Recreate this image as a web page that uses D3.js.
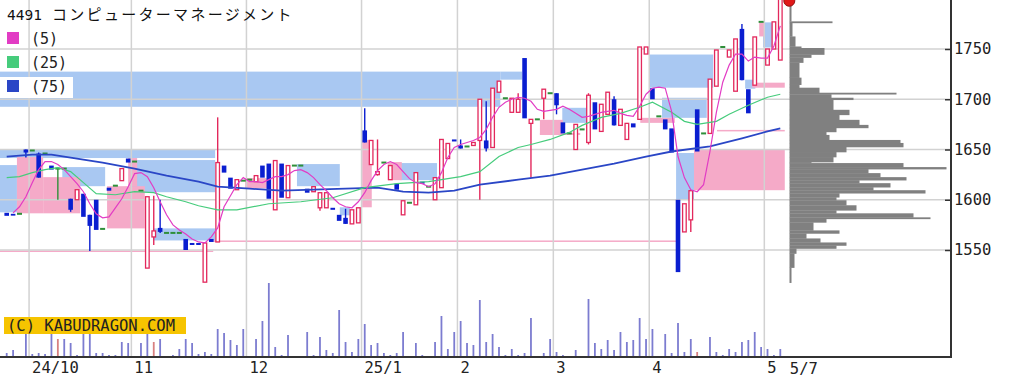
<!DOCTYPE html>
<html>
<head>
<meta charset="utf-8">
<script src="https://cdn.jsdelivr.net/npm/d3@7"></script>
<style>
body{margin:0;background:#fff}
svg{display:block}
</style>
</head>
<body>
<svg id="chart" width="1018" height="390"></svg>
<script>
// ---- data ----
const code = "4491";
const name = "コンピューターマネージメント";

const opens = [1587,1586,1586,1650,1649,1646,1646,1634,1631,1631,
 1601,1600,1606,1585,1600,1571,1612,1614,1619,1641,
 1638,1609,1532,1563,1572,1567,1567,1567,1561,1557,
 1557,1518,1561,1558,1634,1622,1610,1619,1620,1618,
 1634,1636,1590,1636,1602,1634,1634,1611,1608,1592,
 1592,1592,1585,1582,1576,1577,1669,1635,1625,1637,
 1620,1616,1585,1597,1595,1618,1613,1600,1612,1641,
 1660,1654,1653,1654,1659,1659,1652,1707,1701,1687,
 1687,1741,1676,1680,1701,1706,1706,1677,1666,1650,
 1670,1657,1697,1668,1685,1700,1674,1660,1676,1680,
 1745,1711,1683,1680,1671,1600,1568,1580,1690,1666,
 1666,1713,1752,1742,1708,1770,1710,1714,1777,1734,
 1750,1739];
const highs = [1587,1586,1586,1650,1649,1647,1646,1634,1632,1631,
 1601,1610,1606,1585,1600,1571,1612,1614,1631,1641,
 1638,1609,1603,1604,1600,1567,1567,1567,1561,1557,
 1557,1557,1561,1682,1634,1622,1620,1619,1620,1624,
 1634,1636,1639,1636,1634,1634,1634,1611,1613,1607,
 1607,1592,1585,1591,1590,1592,1691,1659,1660,1637,
 1634,1616,1599,1597,1627,1618,1613,1622,1660,1656,
 1660,1660,1653,1657,1700,1698,1711,1718,1701,1701,
 1706,1741,1680,1680,1710,1706,1706,1677,1666,1675,
 1670,1706,1697,1695,1707,1703,1690,1676,1676,1752,
 1752,1711,1683,1680,1671,1600,1596,1609,1690,1666,
 1720,1749,1752,1749,1760,1775,1710,1762,1777,1750,
 1777,1800];
const lows = [1584,1585,1586,1642,1649,1622,1646,1630,1600,1631,
 1588,1600,1583,1549,1570,1571,1609,1614,1619,1637,
 1638,1609,1532,1555,1567,1567,1567,1567,1550,1555,
 1555,1518,1558,1558,1627,1611,1610,1619,1620,1618,
 1622,1601,1590,1602,1602,1634,1634,1607,1608,1589,
 1592,1590,1579,1576,1576,1577,1657,1635,1624,1637,
 1620,1610,1585,1597,1595,1616,1613,1600,1612,1641,
 1658,1651,1653,1654,1600,1648,1652,1707,1701,1687,
 1687,1681,1622,1680,1680,1706,1685,1666,1666,1650,
 1670,1655,1670,1668,1685,1674,1674,1660,1672,1680,
 1745,1700,1683,1670,1647,1528,1568,1568,1648,1666,
 1666,1713,1752,1742,1708,1719,1686,1714,1777,1734,
 1750,1739];
const closes = [1584,1585,1586,1647,1649,1622,1646,1630,1631,1631,
 1590,1610,1583,1574,1570,1571,1609,1614,1631,1637,
 1638,1609,1603,1569,1568,1567,1567,1567,1550,1555,
 1555,1557,1558,1637,1627,1611,1620,1619,1620,1624,
 1622,1601,1639,1602,1634,1634,1634,1607,1613,1607,
 1607,1590,1579,1576,1590,1592,1657,1659,1628,1637,
 1634,1610,1599,1597,1627,1616,1613,1622,1660,1656,
 1658,1651,1653,1657,1700,1651,1711,1718,1701,1701,
 1700,1681,1680,1680,1710,1706,1694,1666,1666,1675,
 1670,1704,1670,1695,1707,1674,1690,1676,1672,1752,
 1752,1700,1683,1670,1647,1528,1596,1609,1648,1666,
 1720,1749,1752,1749,1760,1719,1686,1762,1777,1750,
 1777,1800];

const volumes = [4,7,0,23,3,4,3,23,18,18,
 14,2,23,23,4,4,2,2,15,14,
 0,14,23,15,18,0,2,8,18,14,
 3,5,3,28,24,17,12,28,0,18,
 36,74,10,2,22,0,0,25,2,20,
 7,4,47,15,5,18,33,12,14,4,
 2,4,25,0,14,2,0,15,41,8,
 25,36,14,12,57,15,23,10,2,8,
 2,4,39,0,4,18,5,2,0,7,
 0,58,14,8,17,7,25,15,17,39,
 18,28,0,23,4,34,5,18,5,0,
 20,5,2,8,5,15,17,25,10,8,
 2,8];
const redVolumeDays = [8, 23, 108];

// moving averages: [day, price]
const ma5 = [[1,1587],[2,1593],[3,1603],[4,1617],[5,1630],[6,1638],[7,1638],[8,1635],[9,1630],[10,1623],
 [11,1616],[12,1608],[13,1596],[14,1586],[15,1582],[16,1583],[17,1592],[18,1601],[19,1613],[20,1626],
 [21,1627],[22,1623],[23,1612],[24,1598],[25,1585],[26,1575],[27,1570],[28,1566],[29,1561],[30,1558],
 [31,1557],[32,1563],[33,1572],[34,1593],[35,1604],[36,1615],[37,1622],[38,1618],[39,1618],[40,1617],
 [41,1620],[42,1623],[43,1623],[44,1625],[45,1629],[46,1630],[47,1627],[48,1622],[49,1615],[50,1609],
 [51,1602],[52,1596],[53,1593],[54,1592],[55,1598],[56,1607],[57,1619],[58,1629],[59,1635],[60,1638],
 [61,1635],[62,1628],[63,1621],[64,1617],[65,1616],[66,1613],[67,1616],[68,1627],[69,1642],[70,1652],
 [71,1655],[72,1657],[73,1659],[74,1662],[75,1670],[76,1682],[77,1692],[78,1697],[79,1700],[80,1702],
 [81,1701],[82,1698],[83,1690],[84,1688],[85,1689],[86,1690],[87,1693],[88,1690],[89,1686],[90,1682],
 [91,1683],[92,1685],[93,1687],[94,1688],[95,1689],[96,1686],[97,1684],[98,1683],[99,1693],[100,1705],
 [101,1711],[102,1712],[103,1711],[104,1688],[105,1643],[106,1622],[107,1610],[108,1608],[109,1615],[110,1648],
 [111,1687],[112,1717],[113,1734],[114,1745],[115,1745],[116,1738],[117,1742],[118,1741],[119,1741],[120,1753],
 [121,1773]];
const ma25 = [[0,1622],[2,1623],[4,1627],[6,1630],[8,1632],[10,1628],[12,1617],[14,1606],[17,1605],[20,1608],
 [23,1607],[25,1603],[28,1598],[30,1594],[33,1590],[36,1590],[41,1596],[46,1598],[51,1602],[56,1612],
 [61,1616],[66,1618],[71,1623],[74,1628],[77,1643],[80,1652],[82,1655],[85,1660],[88,1667],[90,1674],
 [93,1682],[96,1686],[99,1692],[101,1697],[104,1687],[106,1678],[108,1675],[111,1678],[113,1685],[116,1694],
 [119,1702],[121,1705]];
const ma75 = [[0,1643],[4,1645],[7,1645],[12,1640],[15,1637],[20,1631],[25,1624],[30,1618],[33,1613],[38,1611],
 [43,1609],[48,1610],[53,1611],[58,1612],[62,1608],[66,1607],[70,1609],[74,1615],[80,1620],[85,1624],
 [90,1630],[95,1636],[100,1643],[104,1648],[110,1653],[115,1661],[119,1668],[121,1671]];

// unfilled gaps: [fromDay, toDay, top, bottom]
const downGaps = [[-1.1,77.2,1727.5,1692.5],[77.2,80.6,1727.5,1719.5],[-1.1,32.6,1649.5,1641.5],
 [-1.1,1.6,1634.5,1587.5],[8.7,15.4,1632.5,1613.5],[19.3,32.6,1639.5,1607.5],[22.9,32.6,1571.5,1559.5],
 [45.4,52.1,1635.5,1613.5],[52.1,53.7,1592.5,1584.5],[61.5,67.3,1636.5,1619.5],[86.9,91.3,1691.5,1676.5],
 [100.5,110.5,1744.5,1711.5],[102.5,109.5,1701.5,1681.5],[104.7,107.5,1646.5,1600.5],
 [115.5,117.1,1719.5,1710.5],[118.3,120.3,1776.5,1751.5]];
const upGaps = [[1.6,5.7,1642.5,1586.5],[5.7,11.5,1622.5,1586.5],[15.7,21.6,1613.5,1571.5],
 [19,20.4,1641.5,1613.5],[-1.1,32.3,1549.5,1548],[32.3,104.8,1559.5,1558],[37.3,40.7,1621.5,1611.5],
 [55.6,57.1,1659.5,1592.5],[59.6,61.8,1637.5,1619.5],[83.4,87,1679.5,1664.5],[83.4,89.7,1666.5,1664.5],
 [99.1,104.5,1681.5,1676.5],[107.5,121.7,1650.5,1609.5],[111.1,121.7,1669.5,1668],
 [116.6,121.7,1716.5,1711.5],[117.7,118.6,1776.5,1762.5]];

// volume by price, edges from top to bottom
const profileEdges = [1799.5,1777.5,1776,1762.5,1752.5,1751,1744.5,1741.5,1736.5,1721.5,
 1714.5,1711.5,1706.5,1705,1701.5,1699.5,1689.5,1684.5,1679.5,1674.5,
 1671.5,1667.5,1664.5,1659.5,1656.5,1652.5,1647.5,1642.5,1637.5,1636.5,
 1632.5,1630.5,1626.5,1622.5,1619.5,1616.5,1612.5,1609.5,1606.5,1602.5,
 1599.5,1594.5,1589.5,1586.5,1582.5,1581,1577.5,1569.5,1566.5,1561.5,
 1557.5,1554.5,1551.5,1546.5,1532.5,1517.5];
const profileVols = [2,43,3,6,12,35,22,14,10,12,
 10,30,107,42,64,44,60,50,70,79,
 47,37,40,111,114,57,47,44,22,114,
 157,79,91,117,70,101,84,136,50,47,
 57,67,47,124,141,37,24,50,17,31,
 57,47,7,5,2];

const priceTicks = [1550,1600,1650,1700,1750];
const monthTicks = [3.5,19.5,37.5,55.5,70.5,85.5,100.5,118.5];
const monthLabels = ["24/10","11","12","25/1","2","3","4","5"];
const lastLabel = "5/7";
const maNames = ["(5)","(25)","(75)"];
const maColors = ["#e23cc4","#46cc7c","#2a46c6"];

// ---- scales ----
const plotR = 951, volBase = 357;
const svg = d3.select("#chart");
const x = d3.scaleLinear().domain([0, 121]).range([6.7, 780.3]);
const y = d3.scaleLinear().domain([1550, 1750]).range([250, 49]);
const vy = d3.scaleLinear().domain([0, 80]).range([volBase, volBase - 80]);
const px = d3.scaleLinear().domain([0, 160]).range([789.5, 949.5]);

const mono = "'DejaVu Sans Mono', monospace";

// gap boxes
function gapRects(data, color) {
  svg.append("g").selectAll("rect").data(data).enter().append("rect")
    .attr("x", d => Math.max(0, x(d[0])))
    .attr("width", d => x(d[1]) - Math.max(0, x(d[0])))
    .attr("y", d => y(d[2]))
    .attr("height", d => y(d[3]) - y(d[2]))
    .attr("fill", color)
}
gapRects(downGaps, "#a9c8f2")
gapRects(upGaps, "#f5aac8")

// grid
const grid = svg.append("g").attr("stroke", "#d2d2d2").attr("stroke-width", 1.5)
grid.selectAll(".v").data(monthTicks).enter().append("line")
  .attr("x1", d => x(d)).attr("x2", d => x(d)).attr("y1", 0).attr("y2", volBase)
grid.selectAll(".h").data(priceTicks).enter().append("line")
  .attr("x1", 0).attr("x2", plotR).attr("y1", d => y(d)).attr("y2", d => y(d))

// volume profile
svg.append("g").attr("fill", "#808080")
  .selectAll("rect").data(profileVols).enter().append("rect")
  .attr("x", px(0))
  .attr("width", d => px(d) - px(0))
  .attr("y", (d, i) => y(profileEdges[i]))
  .attr("height", (d, i) => y(profileEdges[i + 1]) - y(profileEdges[i]) + 0.3)

// volume bars
const days = d3.range(opens.length)
svg.append("g").selectAll("line").data(days.filter(i => volumes[i] > 0)).enter().append("line")
  .attr("x1", i => x(i)).attr("x2", i => x(i))
  .attr("y1", volBase).attr("y2", i => vy(volumes[i]))
  .attr("stroke", i => redVolumeDays.includes(i) ? "#d88080" : "#7c7cd0")
  .attr("stroke-width", 1.8)

// candles
const candle = svg.append("g").selectAll("g").data(days).enter().append("g")
const kind = i => closes[i] > opens[i] ? "up" : closes[i] < opens[i] ? "down" : "flat"
const col = {up: "#e3285c", down: "#0a1ed0", flat: "#2f8f3a"}

candle.filter(i => highs[i] > Math.max(opens[i], closes[i]) || lows[i] < Math.min(opens[i], closes[i]))
  .append("line")
  .attr("x1", i => x(i)).attr("x2", i => x(i))
  .attr("y1", i => y(highs[i])).attr("y2", i => y(lows[i]))
  .attr("stroke", i => col[kind(i)]).attr("stroke-width", 1.4)

candle.filter(i => kind(i) === "up").append("rect")
  .attr("x", i => x(i) - 1.8).attr("width", 3.6)
  .attr("y", i => y(closes[i])).attr("height", i => y(opens[i]) - y(closes[i]))
  .attr("fill", "#fff").attr("stroke", col.up).attr("stroke-width", 1.3)

candle.filter(i => kind(i) === "down").append("rect")
  .attr("x", i => x(i) - 2.3).attr("width", 4.6)
  .attr("y", i => y(opens[i])).attr("height", i => Math.max(1.8, y(closes[i]) - y(opens[i])))
  .attr("fill", col.down)

candle.filter(i => kind(i) === "flat").append("rect")
  .attr("x", i => x(i) - 2.5).attr("width", 5)
  .attr("y", i => y(closes[i]) - 1).attr("height", 2)
  .attr("fill", col.flat)

// moving averages
const line = d3.line().x(d => x(d[0])).y(d => y(d[1]))
;[ma75, ma25, ma5].forEach((m, k) => {
  svg.append("path").datum(m).attr("d", line).attr("fill", "none")
    .attr("stroke", maColors[2 - k]).attr("stroke-width", k === 0 ? 1.8 : 1.2)
})

// current price marker
svg.append("circle").attr("cx", x(121) + 9).attr("cy", y(closes[121]) + 2).attr("r", 5.5)
  .attr("fill", "#e01818").attr("stroke", "#901010").attr("stroke-width", 1)

// frame
svg.append("line").attr("x1", 0).attr("x2", plotR + 1).attr("y1", volBase).attr("y2", volBase)
  .attr("stroke", "#333").attr("stroke-width", 2)
svg.append("line").attr("x1", plotR).attr("x2", plotR).attr("y1", 0).attr("y2", volBase)
  .attr("stroke", "#333").attr("stroke-width", 2)

// right axis
const ya = svg.append("g").attr("transform", `translate(${plotR},0)`)
  .call(d3.axisRight(y).tickValues(priceTicks).tickFormat(d3.format("d"))
    .tickSizeInner(-6).tickSizeOuter(0).tickPadding(3))
ya.select(".domain").remove()
ya.selectAll("line").attr("stroke", "#333").attr("stroke-width", 1.5)
ya.selectAll("text").attr("font-family", mono).attr("font-size", 15.5).attr("fill", "#222")

// bottom axis
const xa = svg.append("g").attr("transform", `translate(0,${volBase})`)
  .call(d3.axisBottom(x).tickValues(monthTicks).tickFormat((d, i) => monthLabels[i]).tickSize(0).tickPadding(5))
xa.select(".domain").remove()
xa.selectAll("text").attr("text-anchor", "start").attr("dx", 2.5)
  .attr("font-family", mono).attr("font-size", 15.5).attr("fill", "#222")
svg.append("text").attr("x", x(121) + 9.5).attr("y", volBase + 17)
  .attr("font-family", mono).attr("font-size", 15.5).attr("fill", "#222").text(lastLabel)

// copyright
svg.append("rect").attr("x", 4).attr("y", 317).attr("width", 182).attr("height", 17).attr("fill", "#f6c400")
svg.append("text").attr("x", 7).attr("y", 331).attr("font-family", mono).attr("font-size", 15.5)
  .attr("fill", "#222").text("(C) KABUDRAGON.COM")

// title + legend
const t = svg.append("text").attr("x", 7).attr("y", 20).attr("fill", "#111")
t.append("tspan").attr("font-family", mono).attr("font-size", 14.5).text(code)
t.append("tspan").attr("x", 52).attr("font-family", "'Noto Sans CJK JP'").attr("font-size", 15)
  .attr("letter-spacing", 2.3).text(name)

svg.append("rect").attr("x", 0).attr("y", 77).attr("width", 73).attr("height", 21).attr("fill", "#fff")
const lg = svg.append("g").selectAll("g").data(maNames).enter().append("g")
  .attr("transform", (d, i) => `translate(0,${32 + i * 24})`)
lg.append("rect").attr("x", 7).attr("y", 0).attr("width", 12).attr("height", 12)
  .attr("fill", (d, i) => maColors[i])
lg.append("text").attr("x", 31).attr("y", 12).attr("font-family", mono).attr("font-size", 15)
  .attr("fill", "#222").text(d => d)
</script>
</body>
</html>
